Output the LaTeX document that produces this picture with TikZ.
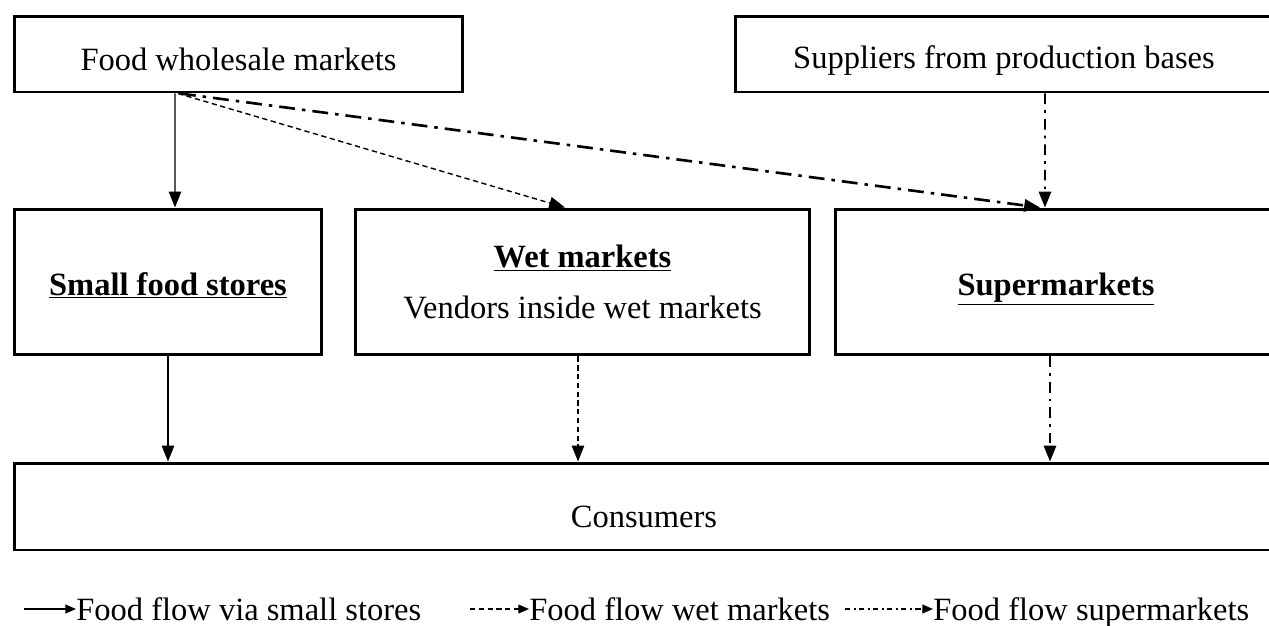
\documentclass[tikz,border=0pt]{standalone}
\usepackage{fontspec}
\setmainfont{Liberation Serif}
\usetikzlibrary{arrows.meta, positioning}
\tikzstyle{arrow} = [->, >={Triangle[length=9pt, width=7pt]}, black]

\begin{document}
\begin{tikzpicture}[
    x=0.02cm, y=-0.02cm,
    flowbox/.style={rectangle, draw=black, line width=1.7pt, inner sep=0pt, align=center, font=\fontsize{18.5}{22}\selectfont},
    legendtext/.style={anchor=base west, inner sep=0pt, font=\fontsize{18.5}{22}\selectfont},
    solidflow/.style={arrow, line width=0.8pt},
    wetflow/.style={arrow, line width=0.8pt, dash pattern=on 3pt off 2pt},
    superflow/.style={arrow, line width=1.5pt, dash pattern=on 9pt off 4pt on 2pt off 4pt},
    supplyflow/.style={arrow, line width=1.1pt, dash pattern=on 6pt off 3.5pt on 1.5pt off 3.5pt},
    legendtip/.style={>={Triangle[length=6pt, width=5pt]}},
]

% Page frame
\useasboundingbox (0,0) rectangle (1269,626);
\clip (0,0) rectangle (1269,626);

% Sources
\node[flowbox, minimum width=8.98cm, minimum height=1.52cm, text height=0.64cm, text depth=0pt] (wholesale) at (238.5,54) {Food wholesale markets};
\node[flowbox, minimum width=10.76cm, minimum height=1.52cm, text height=0.56cm, text depth=0pt] (suppliers) at (1004,54) {Suppliers from production bases};

% Retail outlets
\node[flowbox, minimum width=6.16cm, minimum height=2.92cm, text height=0.52cm, text depth=0pt] (smallstores) at (168,282) {\underline{\textbf{Small food stores}}};
\node[flowbox, minimum width=9.1cm, minimum height=2.92cm] (wetmarkets) at (582.5,282) {\underline{\textbf{Wet markets}}\\[7pt] Vendors inside wet markets};
\node[flowbox, minimum width=8.84cm, minimum height=2.92cm, text height=0.52cm, text depth=0pt] (supermarkets) at (1056,282) {\underline{\textbf{Supermarkets}}};

% Consumers
\node[flowbox, minimum width=25.2cm, minimum height=1.74cm, text height=0.84cm, text depth=0pt] (consumers) at (644,506.5) {Consumers};

% Flows into retail outlets
\draw[solidflow] ([xshift=-1.27cm]wholesale.south) -- ([xshift=0.14cm]smallstores.north);
\draw[wetflow] ([xshift=-1.21cm]wholesale.south) -- ([xshift=-0.35cm]wetmarkets.north);
\draw[superflow] ([xshift=-1.17cm]wholesale.south) -- ([xshift=-0.32cm]supermarkets.north);
\draw[supplyflow] ([xshift=0.82cm]suppliers.south) -- ([xshift=-0.22cm]supermarkets.north);

% Flows to consumers
\draw[solidflow] (smallstores.south) -- (smallstores.south |- consumers.north);
\draw[wetflow] ([xshift=-0.09cm]wetmarkets.south) -- ([xshift=-0.09cm]wetmarkets.south |- consumers.north);
\draw[supplyflow] ([xshift=-0.12cm]supermarkets.south) -- ([xshift=-0.12cm]supermarkets.south |- consumers.north);

% Legend
\node[legendtext] (legsmall) at (76,620) {Food flow via small stores};
\node[legendtext] (legwet) at (529,620) {Food flow wet markets};
\node[legendtext] (legsuper) at (933,620) {Food flow supermarkets};
\coordinate (legsmallstart) at (24,609);
\coordinate (legwetstart) at (470,609);
\coordinate (legsuperstart) at (845,609);
\draw[solidflow, legendtip] (legsmallstart) -- (legsmallstart -| legsmall.west);
\draw[wetflow, legendtip, line width=0.6pt] (legwetstart) -- (legwetstart -| legwet.west);
\draw[arrow, legendtip, line width=0.6pt, dash pattern=on 3pt off 2pt on 1pt off 2pt] (legsuperstart) -- (legsuperstart -| legsuper.west);

\end{tikzpicture}
\end{document}
